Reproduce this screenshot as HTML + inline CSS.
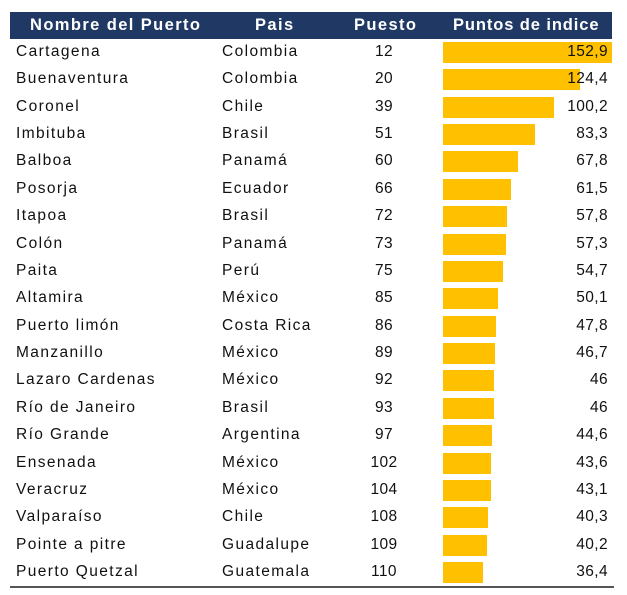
<!DOCTYPE html>
<html><head><meta charset="utf-8"><style>
body{margin:0;width:627px;height:595px;background:#fff;font-family:"Liberation Sans",Arial,sans-serif;position:relative;overflow:hidden}
.hd{position:absolute;left:10px;top:12px;width:602px;height:27px;background:#1f3864}
.h{position:absolute;top:12px;line-height:27px;color:#fff;font-weight:bold;font-size:16.5px;letter-spacing:1.4px}
.r{position:absolute;left:0;width:627px;height:27px;font-size:15.5px;color:#111;line-height:27px;letter-spacing:1.4px}
.r span{position:absolute}
.r span.n{letter-spacing:0.4px}
.bar{position:absolute;left:443px;top:4px;height:21px;background:#ffc000}
.line{position:absolute;left:10px;top:586px;width:604px;height:2px;background:#555}
</style></head><body>
<div class="hd"></div>
<div class="h" style="left:30px">Nombre del Puerto</div>
<div class="h" style="left:255px">Pais</div>
<div class="h" style="left:354px">Puesto</div>
<div class="h" style="left:453px;letter-spacing:0.9px">Puntos de indice</div>
<div id="rows"></div>
<div class="line"></div>
<script>
var d=[["Cartagena","Colombia",12,"152,9"],["Buenaventura","Colombia",20,"124,4"],["Coronel","Chile",39,"100,2"],["Imbituba","Brasil",51,"83,3"],["Balboa","Panamá",60,"67,8"],["Posorja","Ecuador",66,"61,5"],["Itapoa","Brasil",72,"57,8"],["Colón","Panamá",73,"57,3"],["Paita","Perú",75,"54,7"],["Altamira","México",85,"50,1"],["Puerto limón","Costa Rica",86,"47,8"],["Manzanillo","México",89,"46,7"],["Lazaro Cardenas","México",92,"46"],["Río de Janeiro","Brasil",93,"46"],["Río Grande","Argentina",97,"44,6"],["Ensenada","México",102,"43,6"],["Veracruz","México",104,"43,1"],["Valparaíso","Chile",108,"40,3"],["Pointe a pitre","Guadalupe",109,"40,2"],["Puerto Quetzal","Guatemala",110,"36,4"]];
var h="";d.forEach(function(r,i){var t=38+i*27.37;var w=parseFloat(r[3].replace(",","."))*1.105;
h+='<div class="r" style="top:'+t+'px"><div class="bar" style="width:'+w+'px"></div><span style="left:16px">'+r[0]+'</span><span style="left:222px">'+r[1]+'</span><span class="n" style="left:354px;width:60px;text-align:center">'+r[2]+'</span><span class="n" style="right:19px">'+r[3]+'</span></div>';});
document.getElementById("rows").innerHTML=h;
</script>
</body></html>
